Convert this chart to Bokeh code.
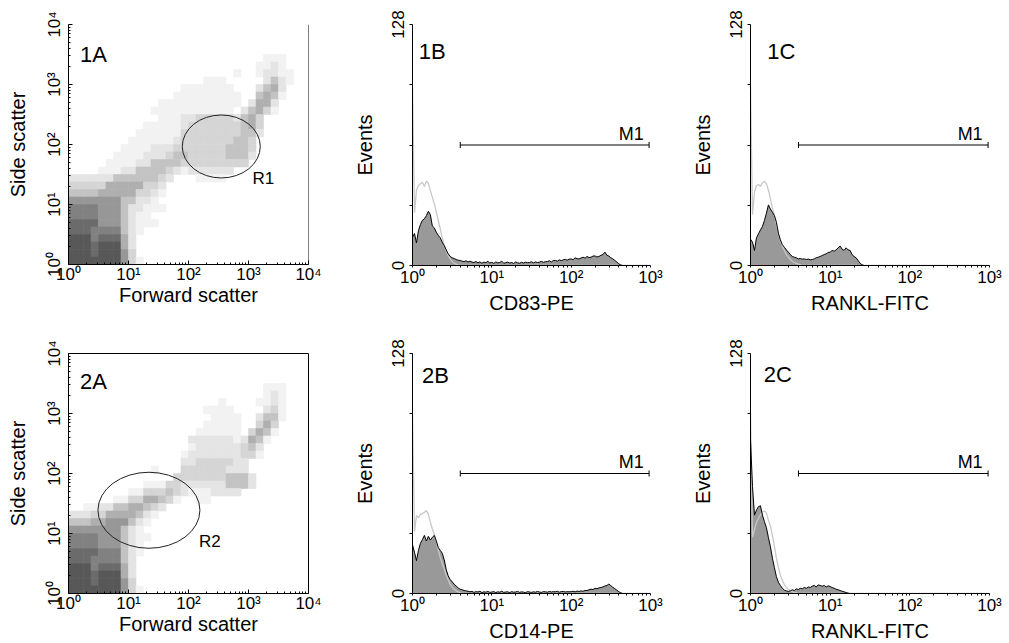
import numpy as np
from bokeh.plotting import figure
from bokeh.layouts import column, row
from bokeh.models import FixedTicker, Span, Label
from bokeh.embed import file_html
from bokeh.resources import INLINE

FONT = "Liberation Sans"

# ---------------- data ----------------
# Dot-plot densities (Forward scatter vs Side scatter), 1/8-decade cells,
# rows listed from SSC 10^4 (top) down to 10^0, columns FSC 10^0 -> 10^4. 0 = empty, 9 = saturated
SCATTER_1A = [
    "00000000000000000000000000000000",
    "00000000000000000000000000000000",
    "00000000000000000000000000000000",
    "00000000000000000000000000000000",
    "00000000000000000000000000111000",
    "00000000000000000000000001121000",
    "00000000000000000000001001221100",
    "00000000000000000011100000242100",
    "00000000000000011111110002452000",
    "00000000000000111111111004541000",
    "00000000000011111111111025520000",
    "00000000000111111111110245310000",
    "00000000000011122333332453000000",
    "00000000001111123333333453000000",
    "00000000011111133333333442000000",
    "00000000111111233333334430000000",
    "00000001111222333333344430000000",
    "00000011112223443333344420000000",
    "00000111122444433333333300000000",
    "00001112244443212222220000000000",
    "22222244444432000111100000000000",
    "33333555553320000000000000000000",
    "44445555533210000000000000000000",
    "66666664422100000000000000000000",
    "77776664221110000000000000000000",
    "77776664211000000000000000000000",
    "88886664211100000000000000000000",
    "88877774210000000000000000000000",
    "99978885200000000000000000000000",
    "99989995200000000000000000000000",
    "99989996300000000000000000000000",
    "99999996310000000000000000000000",
]
SCATTER_2A = [
    "00000000000000000000000000000000",
    "00000000000000000000000000000000",
    "00000000000000000000000000000000",
    "00000000000000000000000000000000",
    "00000000000000000000000000111000",
    "00000000000000000000000000121000",
    "00000000000000000000100001121000",
    "00000000000000000011110000231000",
    "00000000000000000001111002441000",
    "00000000000000000011111003530000",
    "00000000000000000111111035410000",
    "00000000000000002222221254100000",
    "00000000000000001222222342000000",
    "00000000000000012222222331000000",
    "00000000000000022333332200000000",
    "00000000000100033333322200000000",
    "00000000000000333333344420000000",
    "00000000001113322222244420000000",
    "00000000113334321112222000000000",
    "00000011335543100110000000000000",
    "00112244554320000000000000000000",
    "22233555542100000000000000000000",
    "44455666421000000000000000000000",
    "66666664210000000000000000000000",
    "77776664211000000000000000000000",
    "77776664210000000000000000000000",
    "88887774210000000000000000000000",
    "88877774200000000000000000000000",
    "99978885200000000000000000000000",
    "99989995200000000000000000000000",
    "99989996300000000000000000000000",
    "99999996310000000000000000000000",
]

# gates (centre in FSC / SSC units)
R1_CENTER = (352.0, 92.7)
R2_CENTER = (21.9, 24.4)

# histogram channels: 1/40 decade from 10^0 to 10^3 ; counts (events) per channel
CD83_SAMPLE = [15, 17, 12, 18.5, 21.8, 24, 24.8, 26.5, 28.8, 27,
               21, 20, 17.7, 16, 14.7, 12.4, 10.6, 8.3, 6.2, 4.8,
               4.1, 3.7, 3.2, 2.8, 2.7, 2.3, 2.1, 2.5, 1.9, 2.3,
               1.8, 1.6, 2.1, 1.4, 1.9, 1.2, 1.8, 1.5, 2.2, 1.3,
               1.7, 1.1, 1.9, 1.4, 1.6, 2.3, 1.2, 1.5, 1.8, 1.3,
               1.6, 1.1, 1.9, 1.4, 1.2, 1.7, 1.3, 1.8, 1.5, 1.6,
               2.0, 1.4, 1.9, 1.6, 1.8, 2.2, 1.7, 2.0, 2.1, 2.5,
               1.9, 2.6, 2.7, 2.3, 3.0, 2.6, 3.0, 3.3, 2.8, 3.4,
               3.5, 3.1, 4.1, 3.6, 3.5, 4.0, 4.4, 3.9, 4.8, 4.2,
               4.4, 5.0, 5.1, 4.5, 4.8, 5.4, 5.8, 7.1, 5.5, 5.0,
               4.1, 3.5, 2.7, 1.9, 0.9, 0.3]
CD83_CONTROL = [95, 28, 40, 42.5, 43.4, 44.2, 42, 44.8, 43.7, 39.8, 36.3, 32.7, 28.3, 23.9,
                19.5, 14.7, 10.6, 8, 5.3, 3.5, 2.1, 1.2, 0.7, 0.3]

RANKL1_SAMPLE = [14, 12.4, 8, 14.7, 16.8, 18.9, 20.7, 23.9, 27.8, 32.2,
                 30, 28.3, 26.5, 23, 17.2, 13.6, 11, 9.7, 8.3, 7.1,
                 5.8, 4.8, 4.4, 4.1, 3.5, 3.7, 3.4, 3.5, 3.2, 3.4,
                 3.0, 3.2, 3.5, 4.1, 4.4, 4.8, 5.3, 5.8, 6.2, 6.9,
                 7.1, 8.0, 7.6, 8.3, 9.4, 10.3, 8.7, 8.0, 9.4, 8.3,
                 8.0, 5.8, 4.8, 4.1, 2.7, 1.2, 0.4]
RANKL1_CONTROL = [95, 27, 39, 42.5, 43, 42, 44, 44.8, 43.4, 40, 35.4, 30.6, 26.5, 21.8,
                  16.8, 13.3, 10.1, 8, 5.8, 4.4, 3.2, 2.3, 1.6, 1.1, 0.7, 0.4]

CD14_SAMPLE = [26, 22, 17.5, 23, 26.8, 28.7, 31, 28, 30.5, 28.5,
               30, 31, 28, 24.5, 23, 21.5, 18, 12.8, 9.4, 7.5,
               6.2, 5, 4, 3, 2.3, 2, 1.6, 1.4, 1.2,
               0.9, 1.1, 0.6, 1.0, 0.8, 1.2, 0.5, 0.9, 0.7, 1.1,
               0.6, 0.8, 1.0, 0.5, 0.9, 0.7, 1.2, 0.6, 0.8, 0.9,
               0.5, 1.0, 0.7, 0.8, 1.1, 0.6, 0.9, 0.7, 0.5, 1.0,
               0.8, 0.6, 0.9, 0.7, 1.1, 0.8, 0.6, 1.0, 0.9, 0.7,
               1.1, 0.8, 1.0, 0.9, 1.2, 0.7, 1.0, 1.1, 0.8, 1.0, 0.9,
               1.0, 1.2, 0.9, 1.3, 1.1, 1.4, 1.2, 1.6, 1.6, 2.0,
               2.3, 2.1, 2.8, 2.5, 3.0, 3.2, 3.5, 4.0, 4.3, 5.0,
               4.2, 3.3, 2.6, 1.8, 1.0, 0.4]
CD14_CONTROL = [96, 33, 41.5, 40.4, 42.2, 42.6, 43.3, 44.3, 42.2, 38, 34.4, 31.2, 27.7, 23.2,
                19.1, 16.1, 13.1, 9.9, 7.3, 5, 3.4, 2.3, 1.4, 0.9, 0.5]

RANKL2_SAMPLE = [82, 57, 41.8, 44.5, 46.3, 46.8, 41.8, 38.3, 35.1, 29.8,
                 25, 18.8, 13.8, 9, 6, 4.3, 2.8, 1.8, 1.4, 1.1,
                 1.4, 2, 1.6, 2.5, 2.1, 2.8, 2.5, 3.2, 2.8, 3.5,
                 3.2, 3.9, 4.3, 3.5, 4.6, 4.3, 3.9, 4.3, 3.5, 4.1,
                 3.7, 3.2, 2.8, 2.3, 2, 1.6, 1.2, 0.9, 0.5, 0.2]
RANKL2_CONTROL = [96, 30, 34, 38, 40, 42, 43.5, 44, 43, 39, 36, 31, 25, 19, 14, 9.7, 7,
                  4.8, 3.2, 2.2, 1.5, 1, 0.6, 0.3]

# M1 marker (fluorescence range, drawn at 64 events)
M1_RANGE = (4.0, 960.0)
M1_LEVEL = 64

DECADES = [1, 10, 100, 1000, 10000]
DECADE_LABELS = ["10\u2070", "10\u00b9", "10\u00b2", "10\u00b3", "10\u2074"]

GRAYS = [None, "#f2f2f2", "#e4e4e4", "#d5d5d5", "#c3c3c3", "#afafaf",
         "#979797", "#818181", "#6b6b6b", "#585858"]

N_CH = 121
CHANNELS = 10 ** (np.arange(N_CH) * 0.025)


def padded(vals):
    a = np.zeros(N_CH)
    a[:len(vals)] = vals
    return a


def style_axis(ax):
    ax.axis_line_color = "black"
    ax.axis_line_width = 1
    ax.major_tick_line_color = "black"
    ax.minor_tick_line_color = "black"
    ax.major_label_text_font = FONT
    ax.major_label_text_font_size = "17px"
    ax.major_label_text_color = "black"
    ax.axis_label_text_font = FONT
    ax.axis_label_text_font_size = "20px"
    ax.axis_label_text_font_style = "normal"
    ax.axis_label_text_color = "black"


def log_axis(ax, n_dec):
    ax.ticker = FixedTicker(ticks=DECADES[:n_dec + 1],
                            minor_ticks=[k * 10 ** d for d in range(n_dec) for k in range(2, 10)])
    ax.major_label_overrides = {DECADES[i]: DECADE_LABELS[i] for i in range(n_dec + 1)}


def label(p, x, y, text, size, align="left"):
    p.add_layout(Label(x=x, y=y, text=text, text_font=FONT, text_font_size=size,
                       text_align=align, text_baseline="alphabetic", text_color="black",
                       y_offset=6))


def scatter_panel(grid, tag, tag_y, center, size, gname, gpos, top, bottom, boxed):
    p = figure(x_axis_type="log", y_axis_type="log", x_range=(1, 1e4), y_range=(1, 1e4),
               frame_width=240, frame_height=240,
               min_border_left=68, min_border_right=22, min_border_top=top, min_border_bottom=bottom,
               output_backend="svg", toolbar_location=None)
    p.grid.visible = False
    p.outline_line_color = "black" if boxed else None
    p.background_fill_color = "white"
    p.border_fill_color = "white"

    edges = 10 ** (np.arange(33) / 8.0)
    L, R, B, T, C = [], [], [], [], []
    for r, line in enumerate(grid):
        b = 31 - r
        for c, ch in enumerate(line):
            lvl = int(ch)
            if lvl:
                L.append(edges[c]); R.append(edges[c + 1])
                B.append(edges[b]); T.append(edges[b + 1])
                C.append(GRAYS[lvl])
    p.quad(left=L, right=R, bottom=B, top=T, fill_color=C, line_color=C, line_width=0.6)

    if not boxed:
        p.add_layout(Span(location=1e4, dimension="height", line_color="black", line_width=1))

    p.ellipse(x=[center[0]], y=[center[1]], width=size[0], height=size[1],
              width_units="screen", height_units="screen",
              fill_alpha=0, line_color="#222222", line_width=1)
    label(p, gpos[0], gpos[1], gname, "17px")
    label(p, 1.55, tag_y, tag, "22px")

    for ax in (p.xaxis[0], p.yaxis[0]):
        style_axis(ax)
        log_axis(ax, 4)
        ax.major_tick_in = 4
        ax.major_tick_out = 0
        ax.minor_tick_in = 2
        ax.minor_tick_out = 0
    p.xaxis.axis_label = "Forward scatter"
    p.yaxis.axis_label = "Side scatter"
    p.yaxis.major_label_orientation = "vertical"
    p.xaxis.major_label_standoff = 0
    p.xaxis.axis_label_standoff = -3
    p.yaxis.major_label_standoff = 5
    p.yaxis.axis_label_standoff = 13
    return p


def hist_panel(sample, control, tag, tag_pos, xlabel, fw, left, right, top, bottom, fh):
    p = figure(x_axis_type="log", x_range=(1, 1000), y_range=(0, 128),
               frame_width=fw, frame_height=fh,
               min_border_left=left, min_border_right=right, min_border_top=top, min_border_bottom=bottom,
               output_backend="svg", toolbar_location=None)
    p.grid.visible = False
    p.outline_line_color = None
    p.background_fill_color = "white"
    p.border_fill_color = "white"

    s = padded(sample)
    c = padded(control)
    p.varea(x=CHANNELS, y1=np.zeros(N_CH), y2=s, fill_color="#999999")
    p.line(CHANNELS, c, line_color="#c8c8c8", line_width=1.3)
    p.line(CHANNELS, s, line_color="black", line_width=1)

    lo, hi = M1_RANGE
    p.segment(x0=[lo], y0=[M1_LEVEL], x1=[hi], y1=[M1_LEVEL], line_color="black", line_width=1)
    p.segment(x0=[lo, hi], y0=[M1_LEVEL - 1.6] * 2, x1=[lo, hi], y1=[M1_LEVEL + 1.6] * 2,
              line_color="black", line_width=1)
    label(p, 820, M1_LEVEL + 2.8, "M1", "18px", align="right")
    label(p, tag_pos[0], tag_pos[1], tag, "22px")

    style_axis(p.xaxis[0])
    style_axis(p.yaxis[0])
    log_axis(p.xaxis[0], 3)
    p.xaxis.major_tick_in = 0
    p.xaxis.major_tick_out = 2
    p.xaxis.minor_tick_in = 0
    p.xaxis.minor_tick_out = 2
    p.xaxis.major_label_standoff = 0
    p.xaxis.axis_label_standoff = 2
    p.xaxis.axis_label = xlabel

    p.yaxis.ticker = FixedTicker(ticks=[0, 32, 64, 96, 128], minor_ticks=[])
    p.yaxis.major_label_overrides = {0: "0", 32: "", 64: "", 96: "", 128: "128"}
    p.yaxis.major_tick_in = 0
    p.yaxis.major_tick_out = 3
    p.yaxis.major_label_orientation = "vertical"
    p.yaxis.major_label_standoff = 6
    p.yaxis.axis_label_standoff = 13
    p.yaxis.axis_label = "Events"
    return p


p1a = scatter_panel(SCATTER_1A, "1A", 2512, R1_CENTER, (78, 63), "R1", (1170, 21.5), 24, 73, False)
p1b = hist_panel(CD83_SAMPLE, CD83_CONTROL, "1B", (1.2, 110.5), "CD83-PE", 238, 82, 20, 24, 72, 241)
p1c = hist_panel(RANKL1_SAMPLE, RANKL1_CONTROL, "1C", (1.62, 110.6), "RANKL-FITC", 239, 80, 19, 24, 72, 241)

p2a = scatter_panel(SCATTER_2A, "2A", 2690, R2_CENTER, (102, 76), "R2", (150, 5.85), 16, 49, True)
p2b = hist_panel(CD14_SAMPLE, CD14_CONTROL, "2B", (1.32, 113), "CD14-PE", 238, 82, 20, 16, 49, 240)
p2c = hist_panel(RANKL2_SAMPLE, RANKL2_CONTROL, "2C", (1.47, 113.5), "RANKL-FITC", 239, 80, 19, 16, 49, 240)

layout = column(row(p1a, p1b, p1c), row(p2a, p2b, p2c))

open("out.html", "w").write(file_html(layout, INLINE))
